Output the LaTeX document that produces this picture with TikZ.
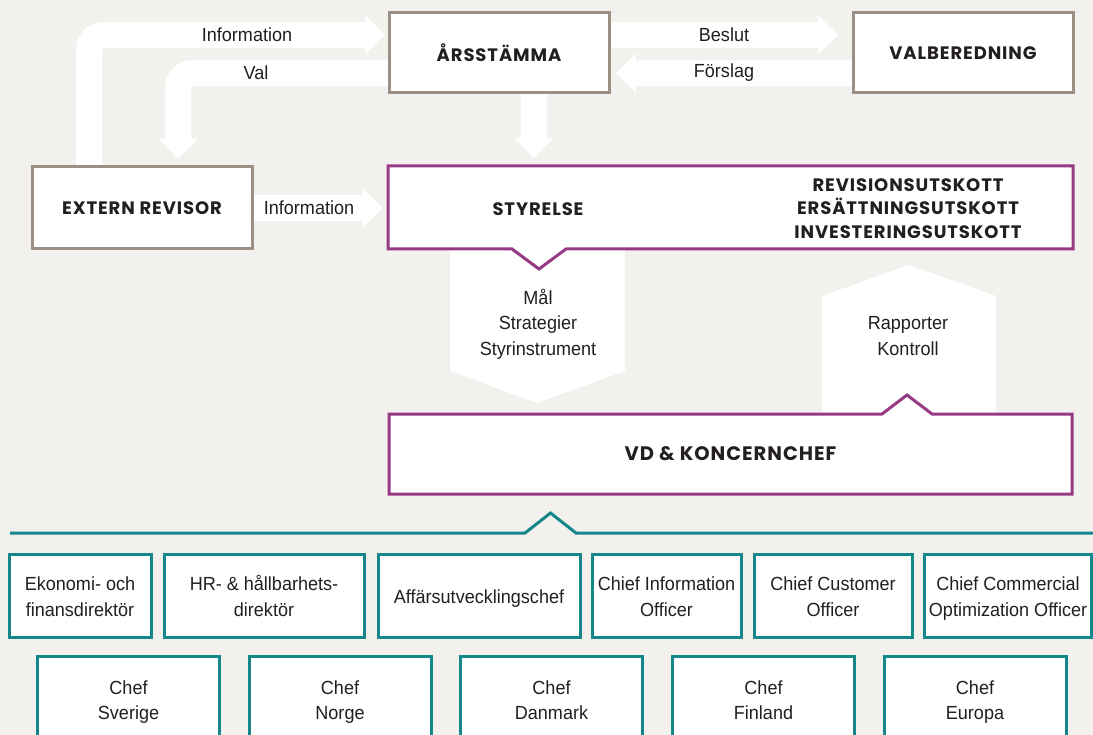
\documentclass[tikz,border=0pt]{standalone}
\usepackage{fontspec}
\setmainfont{Liberation Sans}[FakeStretch=0.95]
\newfontfamily\headfont{Poppins}[LetterSpace=5]
\usetikzlibrary{arrows.meta,calc}
\definecolor{bgc}{HTML}{F2F1ED}
\definecolor{taupe}{HTML}{9C8F84}
\definecolor{purp}{HTML}{963A86}
\definecolor{tealc}{HTML}{14878A}
\definecolor{ink}{HTML}{231F20}
\newcommand\tline[1]{\rule[-5pt]{0pt}{25.5pt}#1}
\pgfdeclarelayer{bgl}
\pgfdeclarelayer{arr}
\pgfsetlayers{bgl,arr,main}
\begin{document}
\begin{tikzpicture}[x=1pt,y=-1pt,
  every node/.style={text=ink, font=\fontsize{19}{25.5}\selectfont, align=center, inner sep=0pt, outer sep=0pt},
  hd/.style={font=\headfont\bfseries\fontsize{18}{23.5}\selectfont},
  tbox/.style={draw=taupe, line width=3pt, fill=white, minimum width=220pt, minimum height=80pt},
  rbox/.style={draw=tealc, line width=3pt, fill=white, minimum height=83pt},
  cbox/.style={draw=tealc, line width=3pt, fill=white, minimum width=182pt, minimum height=86pt},
  warrow/.style={draw=white, line width=26pt, rounded corners=15pt, -{Triangle[width=39pt,length=20pt,line width=0pt]}},
  outl/.style={line width=3pt, fill=white, line join=miter}
]
\begin{pgfonlayer}{bgl}
\fill[bgc] (0,0) rectangle (1093,735);
\end{pgfonlayer}
\useasboundingbox (0,0) rectangle (1093,735);

% top boxes
\node[tbox, hd] (ars) at (499,53) {ÅRSSTÄMMA};
\node[tbox, hd] (val) at (963,53) {VALBEREDNING};
\node[tbox, hd, minimum height=82pt] (rev) at (142,208) {EXTERN REVISOR};

% styrelse
\node[minimum width=685pt, minimum height=83pt] (sty) at (730.5,207.5) {};
\draw[outl, draw=purp] (sty.north west) -- (sty.north east) -- (sty.south east)
  -- ($(sty.south west)+(178,0)$) -- ($(sty.south west)+(151,20)$) -- ($(sty.south west)+(124,0)$)
  -- (sty.south west) -- cycle;
\node[hd] (styt) at (538,209) {STYRELSE};
\node[hd] (utsk) at (908,208.5) {REVISIONSUTSKOTT\\ERSÄTTNINGSUTSKOTT\\INVESTERINGSUTSKOTT};

% VD
\node[minimum width=683pt, minimum height=80pt] (vd) at (730.5,454) {};
\draw[outl, draw=purp] (vd.north west) -- ($(vd.north west)+(493,0)$) -- ($(vd.north west)+(518,-19)$)
  -- ($(vd.north west)+(543,0)$) -- (vd.north east) -- (vd.south east) -- (vd.south west) -- cycle;
\node[hd, font=\headfont\bfseries\fontsize{19.5}{24}\selectfont] (vdt) at (vd.center) {VD \& KONCERNCHEF};

% arrows
\begin{pgfonlayer}{arr}
\draw[warrow] ($(rev.north west)+(57,3)$) |- ($(ars.west)+(-4,-18)$);
\draw[warrow] ($(ars.west)+(2,20)$) -| ($(rev.north west)+(146,-8)$);
\draw[warrow, sharp corners] ($(ars.east)+(-2,-18)$) -- ($(val.west)+(-15,-18)$);
\draw[warrow, sharp corners] ($(val.west)+(2,20)$) -- ($(ars.east)+(7,20)$);
\draw[warrow, sharp corners] ($(ars.south)+(35,-2)$) -- ($(sty.north west)+(146,-8)$);
\draw[warrow, sharp corners] ($(rev.east)+(-2,0)$) -- ($(rev.east -| sty.west)+(-5,0)$);
\fill[white] ($(sty.south west)+(62,-10)$) -- ($(sty.south west)+(237,-10)$) -- ($(sty.south west)+(237,122)$)
  -- ($(sty.south west)+(149,154)$) -- ($(sty.south west)+(62,122)$) -- cycle;
\fill[white] ($(vd.north west)+(433,5)$) -- ($(vd.north west)+(433,-118)$) -- ($(vd.north west)+(520,-149)$)
  -- ($(vd.north west)+(607,-118)$) -- ($(vd.north west)+(607,5)$) -- cycle;
\end{pgfonlayer}

% arrow labels
\node (linfo) at (247,35) {Information};
\node (lval) at (256,73) {Val};
\node (lbes) at (724,35) {Beslut};
\node (lfor) at (724,73) {Förslag};
\node (linfo2) at (309,208) {Information};
\node (lmal) at (538,322) {\tline{Mål}\\\tline{Strategier}\\\tline{Styrinstrument}};
\node (lrap) at (908,335) {\tline{Rapporter}\\\tline{Kontroll}};

% teal line
\draw[tealc, line width=3pt] (10,533) -- (525,533) -- (550.5,513) -- (576,533) -- (1095,533);

% row 1
\node[rbox, minimum width=142pt] (b1) at (80,595.5) {\tline{Ekonomi- och}\\\tline{finansdirektör}};
\node[rbox, minimum width=200pt] (b2) at (264,595.5) {\tline{HR- \& hållbarhets-}\\\tline{direktör}};
\node[rbox, minimum width=202pt] (b3) at (479,595.5) {\tline{Affärsutvecklingschef}};
\node[rbox, minimum width=149pt] (b4) at (666.5,595.5) {\tline{Chief Information}\\\tline{Officer}};
\node[rbox, minimum width=158pt] (b5) at (833,595.5) {\tline{Chief Customer}\\\tline{Officer}};
\node[rbox, minimum width=167pt] (b6) at (1008,595.5) {\tline{Chief Commercial}\\\tline{Optimization Officer}};

% row 2
\node[cbox] (c1) at (128.5,699) {\tline{Chef}\\\tline{Sverige}};
\node[cbox] (c2) at (340,699) {\tline{Chef}\\\tline{Norge}};
\node[cbox] (c3) at (551.5,699) {\tline{Chef}\\\tline{Danmark}};
\node[cbox] (c4) at (763.5,699) {\tline{Chef}\\\tline{Finland}};
\node[cbox] (c5) at (975,699) {\tline{Chef}\\\tline{Europa}};
\end{tikzpicture}
\end{document}
